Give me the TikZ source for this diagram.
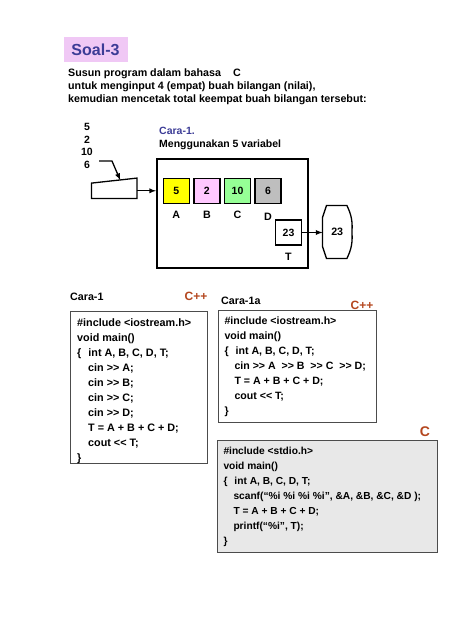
\documentclass[tikz,border=0pt]{standalone}
\usepackage{fontspec}
\setmainfont{Liberation Sans}[Ligatures=TeXOff]
\usetikzlibrary{positioning}
\definecolor{soalbg}{RGB}{240,200,245}
\definecolor{soalfg}{RGB}{60,60,150}
\definecolor{langred}{RGB}{180,70,30}
\definecolor{varyellow}{RGB}{255,255,0}
\definecolor{varpink}{RGB}{255,200,255}
\definecolor{vargreen}{RGB}{150,255,150}
\definecolor{vargray}{RGB}{190,190,190}
\definecolor{codegray}{RGB}{232,232,232}

\begin{document}
\begin{tikzpicture}[x=1pt, y=-1pt,
  main text/.style={font=\bfseries\fontsize{10.7}{13}\selectfont, inner sep=0pt},
  var box/.style={draw, line width=1.3pt, minimum width=26pt, minimum height=25pt, inner sep=0pt, font=\bfseries\fontsize{10.5}{12}\selectfont},
  code box/.style={draw=black!70, line width=0.9pt, inner sep=0pt, anchor=north west},
  code/.style={font=\bfseries\fontsize{10.8}{15}\selectfont, align=left, inner sep=0pt, anchor=north west},
  lang/.style={font=\bfseries\fontsize{12}{14}\selectfont, text=langred, inner sep=0pt},
  node distance=3.3pt]
  \useasboundingbox (0,0) rectangle (474,632);

  \node[font=\bfseries\fontsize{16}{18}\selectfont, text=soalfg, fill=soalbg, minimum width=64pt, minimum height=25pt, inner sep=0pt] (title) at (95.5,49.8) {Soal-3};
  \node[main text, align=left, anchor=north west] (task) at (68,69) {Susun program dalam bahasa\hspace{12pt}C\\ untuk menginput 4 (empat) buah bilangan (nilai),\\ kemudian mencetak total keempat buah bilangan tersebut:};

  \node[main text, align=center, font=\bfseries\fontsize{10.5}{12.7}\selectfont] (inputs) at (87,146) {5\\2\\10\\6};
  \node[main text, align=left, anchor=north west, font=\bfseries\fontsize{10.5}{12.5}\selectfont] (cara) at (159,127) {\textcolor{soalfg}{Cara-1.}\\ Menggunakan 5 variabel};

  \node[draw, line width=1.6pt, minimum width=151pt, minimum height=109pt] (mem) at (232.3,213.5) {};
  \node[var box, fill=varyellow] (boxA) at (176.3,190.8) {5};
  \node[var box, fill=varpink, right=of boxA] (boxB) {2};
  \node[var box, fill=vargreen, right=of boxB] (boxC) {10};
  \node[var box, fill=vargray, right=of boxC] (boxD) {6};
  \node[main text, below=7pt of boxA] (labA) {A};
  \node[main text, below=7pt of boxB] (labB) {B};
  \node[main text, below=7pt of boxC] (labC) {C};
  \node[main text, below=9pt of boxD] (labD) {D};
  \node[var box] (boxT) at (288.5,232.5) {23};
  \node[main text, below=7pt of boxT] (labT) {T};

  \node[minimum width=45pt, minimum height=15pt, inner sep=0pt] (kbd) at (114.2,190.8) {};
  \draw[line width=1.3pt] (kbd.south west) -- (kbd.north west) -- ([yshift=5pt]kbd.north east) -- (kbd.south east) -- cycle;
  \coordinate (feed) at (99,161);
  \draw[line width=1.3pt, -latex] (feed) -- ++(13,0) -- ([xshift=6pt,yshift=3pt]kbd.north);
  \draw[line width=1.3pt, -latex] (kbd.east) -- (kbd.east -| mem.west);

  \node[main text, minimum width=29pt, minimum height=52.6pt] (disp) at (337.2,232) {23};
  \draw[line width=1.3pt] ([xshift=4pt]disp.north west) -- ([xshift=-5pt]disp.north east) to[bend left=15] (disp.east)
    to[bend left=15] ([xshift=-5pt]disp.south east) -- ([xshift=4pt]disp.south west) -- ([yshift=12pt]disp.south west)
    -- ([yshift=-12pt]disp.north west) -- cycle;
  \draw[line width=1.3pt, -latex] (boxT.east) -- (boxT.east -| disp.west);

  \node[main text, anchor=west] (cara1) at (70,297) {Cara-1};
  \node[lang] (cpp1) at (196,296) {C++};
  \node[code box, minimum width=136.7pt, minimum height=152pt] (box1) at (70,311) {};
  \node[code] (code1) at ([xshift=7pt,yshift=-7pt]box1.north west) {\#include <iostream.h>\\ void main()\\ \{\hspace{7pt}int A, B, C, D, T;\\
    \hspace*{11pt}cin >> A;\\ \hspace*{11pt}cin >> B;\\ \hspace*{11pt}cin >> C;\\ \hspace*{11pt}cin >> D;\\
    \hspace*{11pt}T = A + B + C + D;\\ \hspace*{11pt}cout << T;\\ \}};

  \node[main text, anchor=west] (cara1a) at (221,301) {Cara-1a};
  \node[lang] (cpp2) at (362,305) {C++};
  \node[code box, minimum width=157.7pt, minimum height=111.7pt] (box2) at (218.3,310) {};
  \node[code, font=\bfseries\fontsize{10.6}{15}\selectfont] (code2) at ([xshift=6pt,yshift=-7pt]box2.north west) {\#include <iostream.h>\\ void main()\\ \{\hspace{7pt}int A, B, C, D, T;\\
    \hspace*{10pt}cin >> A\ \ >> B\ \ >> C\ \ >> D;\\ \hspace*{10pt}T = A + B + C + D;\\ \hspace*{10pt}cout << T;\\ \}};

  \node[lang, font=\bfseries\fontsize{14}{16}\selectfont] (clang) at (425,432) {C};
  \node[code box, fill=codegray, minimum width=219.7pt, minimum height=112pt] (box3) at (217.3,440) {};
  \node[code, font=\bfseries\fontsize{10.2}{15}\selectfont] (code3) at ([xshift=6pt,yshift=-7pt]box3.north west) {\#include <stdio.h>\\ void main()\\ \{\hspace{7pt}int A, B, C, D, T;\\
    \hspace*{10pt}scanf(“\%i \%i \%i \%i”, \&A, \&B, \&C, \&D );\\ \hspace*{10pt}T = A + B + C + D;\\ \hspace*{10pt}printf(“\%i”, T);\\ \}};
\end{tikzpicture}
\end{document}
